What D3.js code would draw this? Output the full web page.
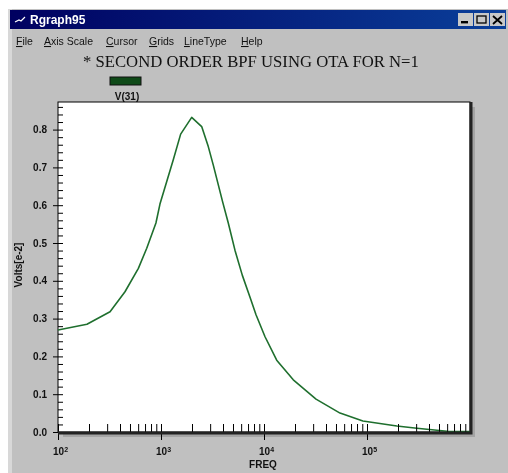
<!DOCTYPE html>
<html>
<head>
<meta charset="utf-8">
<title>Rgraph95</title>
<style>
  html, body { margin: 0; padding: 0; background: #fff; overflow: hidden; }
  svg { display: block; filter: blur(0.6px); }
  text { font-family: "Liberation Sans", sans-serif; fill: #111; }
  .small { font-size: 10px; font-weight: bold; }
  .menu { font-size: 10.5px; }
  .menu tspan.u { text-decoration: underline; }
</style>
<script src="https://d3js.org/d3.v7.min.js"></script>
</head>
<body>
<script>
// values
var freq = [100, 191, 320, 447, 603, 727, 893, 977, 1135, 1316, 1552, 1986, 2483, 2878, 3219, 3972, 4500, 5224, 6152, 7430,
            8366, 10233, 13280, 19240, 31990, 54700, 91200, 195000, 305000, 598000, 1000000];
var volts = [0.27, 0.285, 0.318, 0.371, 0.433, 0.486, 0.553, 0.603, 0.662, 0.72, 0.788, 0.8325, 0.808, 0.755, 0.706, 0.608, 0.553, 0.481, 0.415, 0.351,
             0.31, 0.252, 0.19, 0.138, 0.087, 0.05, 0.029, 0.016, 0.01, 0.002, 0.001];
var yMajor = [0, 0.1, 0.2, 0.3, 0.4, 0.5, 0.6, 0.7, 0.8];
var yMinor = [0.02, 0.04, 0.06, 0.08, 0.12, 0.14, 0.16, 0.18, 0.22, 0.24, 0.26, 0.28, 0.32, 0.34, 0.36, 0.38,
              0.42, 0.44, 0.46, 0.48, 0.52, 0.54, 0.56, 0.58, 0.62, 0.64, 0.66, 0.68, 0.72, 0.74, 0.76, 0.78,
              0.82, 0.84, 0.86];
var xMajor = [100, 1000, 10000, 100000];
var xExp = ["2", "3", "4", "5"];
var menus = [["F", "ile", 16], ["A", "xis Scale", 44], ["C", "ursor", 106], ["G", "rids", 149], ["L", "ineType", 184], ["H", "elp", 241]];

var width = 508, height = 473;
var left = 58, right = 470, top_ = 102, bottom = 432;

var svg = d3.select("body").append("svg").attr("width", width).attr("height", height);

// window frame
var grad = svg.append("defs").append("linearGradient").attr("id", "bar");
grad.append("stop").attr("offset", "0%").attr("stop-color", "#000060");
grad.append("stop").attr("offset", "100%").attr("stop-color", "#0a3f9a");

svg.append("rect").attr("x", 8).attr("y", 9).attr("width", 500).attr("height", 464).attr("fill", "#c0c0c0");
svg.append("rect").attr("x", 8).attr("y", 9).attr("width", 4).attr("height", 464).attr("fill", "#d8d8d8");
svg.append("rect").attr("x", 10).attr("y", 10).attr("width", 496).attr("height", 19).attr("fill", "url(#bar)");

// title bar
svg.append("path").attr("d", "M15 22 L19 20 L21 21 L25 17").attr("fill", "none").attr("stroke", "#fff").attr("stroke-width", 1.2);
svg.append("text").attr("x", 30).attr("y", 24).attr("font-size", 12).attr("font-weight", "bold")
  .style("fill", "#fff").text("Rgraph95");

var buttons = svg.append("g");
[458, 474, 490].forEach(function(bx) {
  buttons.append("rect").attr("x", bx).attr("y", 13).attr("width", 15).attr("height", 13)
    .attr("fill", "#c8c8c8");
});
buttons.append("rect").attr("x", 461).attr("y", 21).attr("width", 7).attr("height", 2.4).attr("fill", "#000");
buttons.append("rect").attr("x", 477).attr("y", 16).attr("width", 9).attr("height", 7).attr("fill", "none").attr("stroke", "#000").attr("stroke-width", 1.3);
buttons.append("path").attr("d", "M493 16 L502 24 M502 16 L493 24").attr("stroke", "#000").attr("stroke-width", 1.8);

// menu bar
menus.forEach(function(m) {
  var t = svg.append("text").attr("class", "menu").attr("x", m[2]).attr("y", 45);
  t.append("tspan").attr("class", "u").text(m[0]);
  t.append("tspan").text(m[1]);
});

// heading and legend
svg.append("text").attr("x", 83).attr("y", 67).attr("font-size", 16.7)
  .style("font-family", "'Liberation Serif', serif")
  .text("* SECOND ORDER BPF USING OTA FOR N=1");
svg.append("rect").attr("x", 110).attr("y", 77).attr("width", 31).attr("height", 8)
  .attr("fill", "#0f4a18").attr("stroke", "#111").attr("stroke-width", 1);
svg.append("text").attr("class", "small").attr("x", 127).attr("y", 100).attr("text-anchor", "middle").text("V(31)");

// plot area
svg.append("rect").attr("x", left + 5).attr("y", top_ + 5).attr("width", right - left).attr("height", bottom - top_).attr("fill", "#a4a4a4");
svg.append("rect").attr("x", left).attr("y", top_).attr("width", right - left).attr("height", bottom - top_)
  .attr("fill", "#fff").attr("stroke", "#000").attr("stroke-width", 1);

var x = d3.scaleLog().domain([100, 1000000]).range([left, right]);
var y = d3.scaleLinear().domain([0, (bottom - top_) / 378]).range([bottom, top_]);

// curve
var line = d3.line().x(function(d) { return x(d[0]); }).y(function(d) { return y(d[1]); });
svg.append("path").datum(d3.zip(freq, volts)).attr("d", line)
  .attr("fill", "none").attr("stroke", "#1f6f2e").attr("stroke-width", 1.6).attr("stroke-linejoin", "round");

// x axis: minor ticks point into the plot, decades cross the axis
var xMinor = x.ticks().filter(function(v) { return xMajor.indexOf(v) < 0 && v < 1000000 && v > 100; });
svg.append("g").attr("transform", "translate(0," + bottom + ")")
  .call(d3.axisTop(x).tickValues(xMinor).tickSize(8).tickFormat(""))
  .call(function(g) { g.select(".domain").remove(); });
svg.append("g").attr("transform", "translate(0," + (bottom - 8) + ")")
  .call(d3.axisBottom(x).tickValues(xMajor).tickSize(16).tickFormat(""))
  .call(function(g) { g.select(".domain").remove(); });

xMajor.forEach(function(v, i) {
  var t = svg.append("text").attr("class", "small").attr("x", x(v) - 5).attr("y", 455);
  t.append("tspan").text("10");
  t.append("tspan").attr("dy", -3).attr("font-size", 7).text(xExp[i]);
});
svg.append("text").attr("class", "small").attr("x", 263).attr("y", 468).attr("text-anchor", "middle").text("FREQ");

// y axis
svg.append("g").attr("transform", "translate(" + left + ",0)")
  .call(d3.axisRight(y).tickValues(yMinor).tickSize(5).tickFormat(""))
  .call(function(g) { g.select(".domain").remove(); });
svg.append("g").attr("transform", "translate(" + (left + 5) + ",0)")
  .call(d3.axisLeft(y).tickValues(yMajor).tickSize(10).tickFormat(""))
  .call(function(g) { g.select(".domain").remove(); });

yMajor.forEach(function(v) {
  svg.append("text").attr("class", "small").attr("x", 47).attr("y", y(v) + 3.5)
    .attr("text-anchor", "end").text(v.toFixed(1));
});
svg.append("text").attr("class", "small").attr("transform", "translate(22,265) rotate(-90)")
  .attr("text-anchor", "middle").text("Volts[e-2]");

// thick right and bottom edge
svg.append("path").attr("d", "M" + (right + 1) + " " + top_ + " V" + (bottom + 1) + " H" + left)
  .attr("fill", "none").attr("stroke", "#222").attr("stroke-width", 3);
</script>
</body>
</html>
